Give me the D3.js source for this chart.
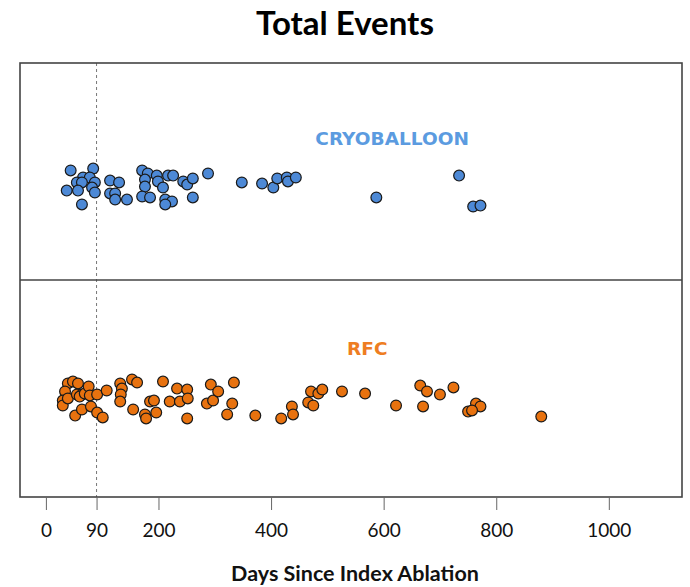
<!DOCTYPE html>
<html>
<head>
<meta charset="utf-8">
<script src="https://cdn.jsdelivr.net/npm/d3@7"></script>
<style>
  html, body { margin: 0; padding: 0; background: #fff; }
  svg { display: block; }
</style>
</head>
<body>
<svg id="chart" width="690" height="587"></svg>
<script>
// Event timing per ablation group (days since index ablation)
const groups = ["CRYOBALLOON", "RFC"];
const groupColors = ["#4d89d6", "#e8720f"];
const labelColors = ["#5b9be0", "#ee7d22"];

const cryoDays = [44,84,66,78,55,64,87,37,57,82,87,64,114,130,114,123,123,144,171,181,197,217,226,176,199,176,208,171,185,212,224,212,244,251,261,288,261,348,384,404,411,428,430,444,587,734,759,772];
// vertical jitter for each point (unitless, roughly -1..1)
const cryoJitter = [-0.74,-0.84,-0.37,-0.37,-0.11,-0.11,-0.11,0.32,0.32,0.16,0.42,1.05,-0.21,-0.11,0.47,0.47,0.79,0.79,-0.74,-0.58,-0.47,-0.47,-0.47,-0.26,-0.16,0.11,0.16,0.63,0.68,0.79,0.89,1.05,-0.16,0,-0.32,-0.58,0.68,-0.11,-0.05,0.16,-0.32,-0.37,-0.16,-0.37,0.68,-0.47,1.16,1.11];

const rfcDays = [39,48,57,34,30,30,39,55,64,60,69,76,78,91,108,52,64,80,91,101,132,135,133,132,153,162,155,176,178,196,185,192,208,220,233,238,251,252,251,286,293,297,306,322,331,334,372,418,437,439,471,484,491,466,475,526,567,622,665,677,700,724,670,750,764,772,757,880];
const rfcJitter = [-0.95,-1.05,-0.95,-0.53,-0.05,0.21,-0.16,-0.37,-0.37,-0.26,-0.42,-0.79,-0.32,-0.37,-0.58,0.74,0.42,0.26,0.58,0.84,-0.95,-0.68,-0.37,0,-1.16,-1.0,0.42,0.68,0.89,0.58,0,-0.05,-1.05,0,-0.68,0,-0.63,-0.16,0.89,0.11,-0.89,-0.05,-0.53,0.68,0.11,-1.0,0.74,0.89,0.26,0.68,-0.53,-0.42,-0.63,0.05,0.21,-0.53,-0.42,0.21,-0.84,-0.53,-0.37,-0.74,0.26,0.53,0.11,0.26,0.47,0.79];

// group label anchor (x in days, y in jitter units)
const labelDays = [615, 571];
const labelJitter = [-2.45, -2.82];

const tickValues = [0, 90, 200, 400, 600, 800, 1000];
const refDay = 90;

const titleText = "Total Events";
const xTitle = "Days Since Index Ablation";

const seriesDays = [cryoDays, rfcDays];
const seriesJitter = [cryoJitter, rfcJitter];

const svg = d3.select("#chart");
const box = { left: 20, right: 682, top: 63, bottom: 497 };

const x = d3.scaleLinear().domain([-46, 1130]).range([box.left, box.right]);
const yBand = d3.scaleBand().domain(groups).range([box.top, box.bottom]).padding(0);
const jitter = d3.scaleLinear().domain([-1, 1]).range([-19, 19]);
const centerOf = g => yBand(g) + yBand.bandwidth() * 0.56;

// Title
svg.append("text")
  .attr("x", 345).attr("y", 35)
  .attr("text-anchor", "middle")
  .attr("font-family", "Lato, 'Open Sans', sans-serif")
  .attr("font-weight", "bold")
  .attr("font-size", 33)
  .attr("fill", "#000")
  .text(titleText);

// Reference line at 90 days
svg.append("line")
  .attr("x1", x(refDay)).attr("x2", x(refDay))
  .attr("y1", box.top).attr("y2", box.bottom)
  .attr("stroke", "#777").attr("stroke-width", 1)
  .attr("stroke-dasharray", "3,3");

// Points
groups.forEach((g, gi) => {
  const pts = seriesDays[gi].map((d, i) => ({ day: d, j: seriesJitter[gi][i] }));
  svg.append("g").selectAll("circle")
    .data(pts)
    .join("circle")
    .attr("cx", d => x(d.day))
    .attr("cy", d => centerOf(g) + jitter(d.j))
    .attr("r", 5.4)
    .attr("fill", groupColors[gi])
    .attr("stroke", "#1a1a1a")
    .attr("stroke-width", 1.2);

  svg.append("text")
    .attr("x", x(labelDays[gi]))
    .attr("y", centerOf(g) + jitter(labelJitter[gi]))
    .attr("dy", "0.36em")
    .attr("text-anchor", "middle")
    .attr("font-family", "'DejaVu Sans', Verdana, sans-serif")
    .attr("font-weight", "bold")
    .attr("font-size", 18.5)
    .attr("fill", labelColors[gi])
    .text(g);
});

// Panel frame and divider
svg.append("rect")
  .attr("x", box.left).attr("y", box.top)
  .attr("width", box.right - box.left).attr("height", box.bottom - box.top)
  .attr("fill", "none").attr("stroke", "#444").attr("stroke-width", 1.6);
svg.append("line")
  .attr("x1", box.left).attr("x2", box.right)
  .attr("y1", yBand(groups[1])).attr("y2", yBand(groups[1]))
  .attr("stroke", "#444").attr("stroke-width", 1.6);

// X axis
const axis = svg.append("g")
  .attr("transform", `translate(0,${box.bottom})`)
  .call(d3.axisBottom(x).tickValues(tickValues).tickSize(13).tickPadding(14).tickFormat(d3.format("d")));
axis.select(".domain").remove();
axis.selectAll(".tick line").attr("stroke", "#666").attr("stroke-width", 1);
axis.selectAll(".tick text")
  .attr("font-family", "Lato, 'Open Sans', sans-serif")
  .attr("font-size", 19)
  .attr("fill", "#111");

svg.append("text")
  .attr("x", 355).attr("y", 581)
  .attr("text-anchor", "middle")
  .attr("font-family", "Lato, 'Open Sans', sans-serif")
  .attr("font-weight", "bold")
  .attr("font-size", 21.5)
  .attr("fill", "#111")
  .text(xTitle);
</script>
</body>
</html>
